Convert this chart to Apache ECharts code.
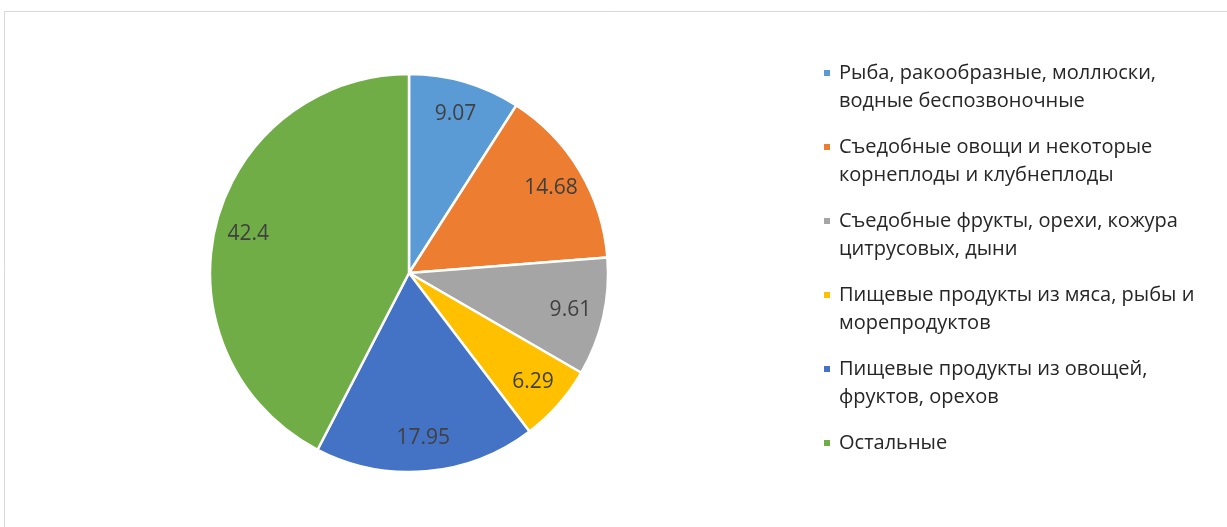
<!DOCTYPE html>
<html>
<head>
<meta charset="utf-8">
<script src="https://cdn.jsdelivr.net/npm/echarts@6/dist/echarts.min.js"></script>
<style>
html,body{margin:0;padding:0;background:#fff;}
#chart{width:1227px;height:527px;}
</style>
</head>
<body>
<div id="chart"></div>
<script>
const categories = [
  "Рыба, ракообразные, моллюски,\nводные беспозвоночные",
  "Съедобные овощи и некоторые\nкорнеплоды и клубнеплоды",
  "Съедобные фрукты, орехи, кожура\nцитрусовых, дыни",
  "Пищевые продукты из мяса, рыбы и\nморепродуктов",
  "Пищевые продукты из овощей,\nфруктов, орехов",
  "Остальные"
];
const values = [9.07, 14.68, 9.61, 6.29, 17.95, 42.4];
const colors = ["#5B9BD5", "#ED7D31", "#A5A5A5", "#FFC000", "#4472C4", "#70AD47"];

const FONT = "Open Sans";
const data = categories.map((c, i) => ({ name: c, value: values[i], itemStyle: { color: colors[i] } }));
const labelData = categories.map((c, i) => ({ name: c, value: values[i] }));

const chart = echarts.init(document.getElementById('chart'), null, { renderer: 'canvas' });
chart.setOption({
  animation: false,
  backgroundColor: '#ffffff',
  graphic: [
    { type: 'line', shape: { x1: 4.5, y1: 11.5, x2: 1227, y2: 11.5 }, style: { stroke: '#d9d9d9', lineWidth: 1 } },
    { type: 'line', shape: { x1: 4.5, y1: 11.5, x2: 4.5, y2: 527 }, style: { stroke: '#d9d9d9', lineWidth: 1 } }
  ],
  legend: {
    orient: 'vertical',
    left: 822,
    top: 31,
    padding: 0,
    itemWidth: 8,
    itemHeight: 8,
    itemGap: -10,
    icon: 'rect',
    selectedMode: false,
    data: categories,
    // centre the first text line on the marker: pad the text to three lines
    formatter: name => name.indexOf('\n') >= 0 ? '\n' + name : '\n' + name + '\n',
    textStyle: { fontFamily: FONT, fontSize: 20, color: '#262626', lineHeight: 28, padding: [0, 0, 0, 3] }
  },
  series: [
    {
      type: 'pie',
      center: [409, 273],
      radius: [0, 199],
      startAngle: 90,
      clockwise: true,
      silent: true,
      label: { show: false },
      labelLine: { show: false },
      itemStyle: { borderColor: '#ffffff', borderWidth: 2.5 },
      data: data
    },
    {
      type: 'pie',
      center: [409, 273],
      radius: [126, 199],
      startAngle: 90,
      clockwise: true,
      silent: true,
      itemStyle: { color: 'rgba(0,0,0,0)' },
      label: {
        show: true,
        position: 'inside',
        formatter: p => String(p.value),
        fontFamily: FONT,
        fontSize: 21,
        color: '#404040'
      },
      labelLine: { show: false },
      data: labelData
    }
  ]
});
</script>
</body>
</html>
